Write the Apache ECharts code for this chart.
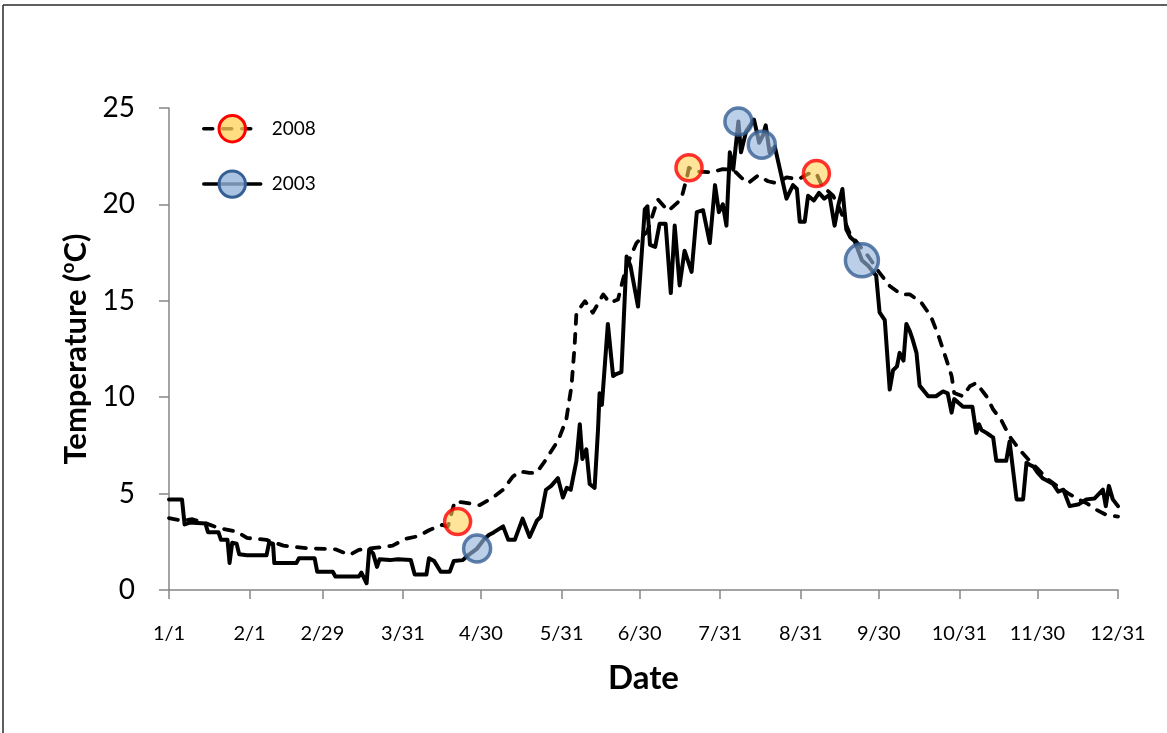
<!DOCTYPE html>
<html>
<head>
<meta charset="utf-8">
<script src="https://cdn.jsdelivr.net/npm/echarts@6/dist/echarts.min.js"></script>
<style>
  html, body { margin: 0; padding: 0; background: #ffffff; }
  #chart { width: 1167px; height: 733px; }
</style>
</head>
<body>
<div id="chart"></div>
<script>
// Day-of-year positions (0 = Jan 1) of the month-end date ticks and their labels
const tickDays = [0, 31, 59, 90, 120, 151, 181, 212, 243, 273, 304, 334, 365];
const tickLabels = ['1/1', '2/1', '2/29', '3/31', '4/30', '5/31', '6/30', '7/31', '8/31', '9/30', '10/31', '11/30', '12/31'];

// Daily mean water temperature, 2008 (dashed) — [day of year, °C]
const temp2008 = [
  [0, 3.73], [5, 3.6], [9, 3.67], [14, 3.47], [19.5, 3.2], [26, 3.03], [30, 2.7],
  [37.5, 2.6], [44, 2.3], [53, 2.17], [64, 2.11], [69.5, 1.82], [73, 2.08], [80, 2.2],
  [86, 2.3], [91, 2.65], [96, 2.8], [100, 3.1], [105, 3.38], [107.3, 3.3], [109.9, 4.59],
  [113, 4.55], [119.5, 4.4], [124.6, 4.8], [128.5, 5.2], [132.3, 5.89], [135, 6.15],
  [138.7, 6.07], [141.3, 6.07], [144.5, 6.67], [149, 7.62], [150.3, 7.97], [152.8, 8.84],
  [154.8, 10.57], [156, 12.65], [156.7, 14.38], [160, 14.98], [163, 14.38], [167, 15.33],
  [169.5, 14.9], [172.7, 15.07], [174.6, 16.1], [176.5, 16.98], [179.8, 18.0], [184, 18.6],
  [188, 20.27], [192, 19.66], [197, 20.27], [199, 21.3], [200, 21.9], [203.5, 21.7],
  [208.6, 21.66], [213, 21.83], [217, 21.8], [220, 21.4], [222.7, 21.1], [226.5, 21.5],
  [230.4, 21.2], [233.6, 21.1], [237.5, 21.4], [242, 21.3], [246, 21.6], [249, 21.6],
  [251, 21.0], [255.4, 20.45], [258, 19.75], [261.8, 18.5], [265.7, 17.84], [269, 17.3],
  [273, 16.5], [277.2, 15.77], [281.7, 15.33], [285, 15.33], [289.4, 14.9], [293, 14.2],
  [296, 13.17], [299, 11.95], [301, 11.1], [302, 10.22], [305.4, 10.05], [308, 10.57],
  [310.5, 10.74], [314.4, 10.05], [317, 9.36], [320, 8.84], [323.3, 7.97], [327, 7.3],
  [331, 6.7], [334, 6.3], [337.5, 5.8], [342.6, 5.29], [346, 5.0], [350, 4.68], [353, 4.5],
  [356.7, 4.16], [360.5, 3.9], [365, 3.81]
];

// Daily mean water temperature, 2003 (solid) — [day of year, °C]
const temp2003 = [
  [0, 4.7], [5, 4.7], [6, 3.4], [8, 3.5], [14, 3.45], [15, 3.0], [19, 3.0], [20, 2.6],
  [22.5, 2.6], [23.3, 1.4], [24.3, 2.45], [26, 2.4], [27, 1.85], [30, 1.8], [37.5, 1.8],
  [38.5, 2.45], [40, 2.4], [40.5, 1.4], [49, 1.4], [50, 1.65], [56, 1.65], [57, 0.95],
  [63, 0.95], [64, 0.7], [73, 0.7], [74, 0.9], [76, 0.35], [77, 2.1], [78.5, 1.9],
  [80, 1.2], [81, 1.6], [85, 1.55], [88, 1.6], [93, 1.55], [94.5, 0.8], [99, 0.8],
  [100, 1.65], [102, 1.5], [104.5, 0.95], [108, 0.95], [109.5, 1.5], [113, 1.55],
  [115, 1.8], [118.5, 2.15], [121, 2.6], [123, 2.85], [125, 3.0], [128.5, 3.3],
  [130.5, 2.6], [133, 2.6], [136, 3.7], [138.7, 2.75], [141.5, 3.6], [143, 3.8],
  [145, 5.2], [147, 5.4], [149.6, 5.8], [151.5, 4.8], [153, 5.3], [154.5, 5.2],
  [156.7, 6.7], [158, 8.6], [159, 6.8], [160.5, 7.3], [161.8, 5.5], [163.7, 5.3],
  [165, 8.3], [165.6, 10.2], [166.5, 9.6], [168.8, 13.8], [170.8, 11.1], [172, 11.2],
  [174, 11.3], [176, 17.3], [177.5, 16.8], [180.4, 14.7], [183, 19.75], [184, 19.9],
  [185, 17.9], [187, 17.8], [188.7, 19.0], [191, 19.0], [193, 15.4], [194.5, 18.9],
  [196.4, 15.8], [198.3, 17.6], [201, 16.5], [203, 19.6], [205.4, 19.7], [208, 18.0],
  [210, 21.0], [211.5, 19.6], [213, 20.0], [214.4, 18.9], [215.7, 22.7], [217, 21.8],
  [219, 24.3], [220, 22.7], [222, 23.8], [225, 24.4], [227, 23.2], [228.5, 23.6],
  [229.5, 24.1], [231, 22.7], [233, 23.0], [235.5, 21.5], [237.5, 20.3], [240, 21.0],
  [241.5, 20.8], [242.6, 19.1], [244.5, 19.1], [245.8, 20.45], [248, 20.2], [250, 20.6],
  [252, 20.3], [254, 20.5], [256, 18.9], [257.5, 20.0], [259, 20.8], [260.5, 18.7],
  [262, 18.3], [263.7, 18.1], [266.5, 17.1], [269, 16.8], [272, 16.3], [273.3, 14.4],
  [275.3, 14.0], [277.2, 10.4], [278.5, 11.4], [280, 11.6], [281, 12.3], [282.5, 11.9],
  [283.6, 13.8], [285, 13.4], [286, 13.0], [287.5, 12.3], [288.7, 10.6], [292, 10.05],
  [295, 10.05], [297.7, 10.3], [299.5, 10.2], [301, 9.2], [302, 9.9], [305.4, 9.5],
  [309, 9.5], [310.5, 8.15], [311.5, 8.6], [312.5, 8.3], [314.4, 8.15], [316, 8.0],
  [317, 7.9], [318.2, 6.7], [322, 6.7], [323.3, 7.7], [326, 4.7], [328.5, 4.7],
  [329.8, 6.6], [331, 6.5], [332.5, 6.4], [334, 6.1], [336, 5.8], [338.7, 5.6],
  [340, 5.5], [342, 5.1], [344, 5.2], [346.4, 4.35], [350, 4.45], [352.8, 4.7],
  [356, 4.75], [359.2, 5.2], [360.3, 4.35], [361.5, 5.4], [363, 4.7], [365, 4.35]
];

// Sampling dates highlighted with circle markers — [day of year, °C]
const samples2008 = [[111, 3.55], [200, 21.9], [249, 21.6]];
const samples2003 = [[118.5, 2.15], [219, 24.3], [228, 23.1], [266.5, 17.1]];

const FONT = 'Lato, "Liberation Sans", sans-serif';
const AXIS_GRAY = '#868686';

const style2008 = { color: 'rgba(255, 210, 85, 0.75)', borderColor: '#ff0000', borderWidth: 3.5 };
const style2003 = { color: 'rgba(150, 180, 220, 0.8)', borderColor: '#365f93', borderWidth: 3.5 };

const chart = echarts.init(document.getElementById('chart'), null, { renderer: 'canvas' });

chart.setOption({
  animation: false,
  backgroundColor: '#ffffff',
  textStyle: { fontFamily: FONT, color: '#000' },
  grid: { left: 169, right: 49, top: 108, bottom: 143, containLabel: false, outerBoundsMode: 'none' },
  legend: {
    data: ['2008', '2003'],
    orient: 'vertical',
    left: 197,
    top: 109,
    itemWidth: 57,
    itemHeight: 33,
    itemGap: 26,
    selectedMode: false,
    textStyle: { fontFamily: FONT, fontSize: 19, color: '#000', padding: [0, 0, 0, 6] },
    itemStyle: { borderWidth: 3 },
    lineStyle: { width: 3.5 }
  },
  xAxis: {
    type: 'value',
    min: 0,
    max: 365,
    name: 'Date',
    nameLocation: 'middle',
    nameGap: 72,
    nameTextStyle: { fontFamily: FONT, fontSize: 33, fontWeight: 'bold', color: '#000' },
    axisLine: { show: true, lineStyle: { color: AXIS_GRAY, width: 1.5 } },
    axisTick: { show: true, length: 9, lineStyle: { color: AXIS_GRAY, width: 1.5 }, customValues: tickDays },
    axisLabel: {
      customValues: tickDays,
      margin: 34,
      fontFamily: FONT,
      fontSize: 20,
      color: '#000',
      formatter: function (v) {
        const i = tickDays.indexOf(Math.round(v));
        return i >= 0 ? tickLabels[i] : '';
      }
    },
    splitLine: { show: false }
  },
  yAxis: {
    type: 'value',
    min: 0,
    max: 25,
    interval: 5,
    name: '{b|Temperature (}{s|o}{b|C)}',
    nameLocation: 'middle',
    nameRotate: 90,
    nameGap: 74,
    nameTextStyle: {
      rich: {
        b: { fontFamily: FONT, fontSize: 31, fontWeight: 'bold', color: '#000', lineHeight: 36 },
        s: { fontFamily: FONT, fontSize: 19, fontWeight: 'bold', color: '#000', lineHeight: 18, verticalAlign: 'top' }
      }
    },
    axisLine: { show: true, lineStyle: { color: AXIS_GRAY, width: 1.5 } },
    axisTick: { show: true, length: 10, lineStyle: { color: AXIS_GRAY, width: 1.5 } },
    axisLabel: { margin: 34, fontFamily: FONT, fontSize: 28, color: '#000' },
    splitLine: { show: false }
  },
  series: [
    {
      name: '2008',
      type: 'line',
      data: temp2008,
      symbol: 'circle',
      showSymbol: false,
      z: 2,
      lineStyle: { color: '#000', width: 3.8, type: [9, 10], cap: 'round', join: 'round' },
      itemStyle: style2008
    },
    {
      name: '2003',
      type: 'line',
      data: temp2003,
      symbol: 'circle',
      showSymbol: false,
      z: 3,
      lineStyle: { color: '#000', width: 4, cap: 'round', join: 'round' },
      itemStyle: style2003
    },
    {
      name: 'Sampling 2008',
      type: 'scatter',
      data: samples2008,
      symbol: 'circle',
      symbolSize: 26,
      z: 5,
      itemStyle: style2008
    },
    {
      name: 'Sampling 2003',
      type: 'scatter',
      data: samples2003,
      symbol: 'circle',
      symbolSize: function (val, params) { return params.dataIndex === 3 ? 33 : 27; },
      z: 5,
      itemStyle: style2003
    }
  ],
  graphic: [
    { type: 'line', silent: true, shape: { x1: 3, y1: 5, x2: 1167, y2: 5 }, style: { stroke: '#2a2a2a', lineWidth: 1.5 } },
    { type: 'line', silent: true, shape: { x1: 3, y1: 5, x2: 3, y2: 733 }, style: { stroke: '#2a2a2a', lineWidth: 1.5 } }
  ]
});
</script>
</body>
</html>
